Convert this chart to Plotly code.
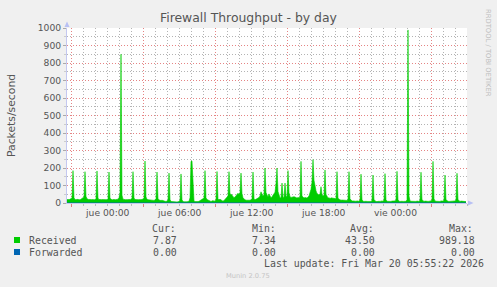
import plotly.graph_objects as go

# ---------------- data ----------------
step_minutes = 5
start_minute = -200          # first sample, minutes relative to "jue 00:00"

received = [
    19, 21, 18, 20, 22, 28, 185, 30, 20, 18, 21, 19,
    20, 18, 22, 26, 32, 35, 179, 38, 24, 20, 19, 21,
    18, 20, 19, 22, 18, 26, 183, 28, 19, 21, 18, 20,
    19, 18, 21, 20, 19, 25, 177, 27, 20, 18, 19, 21,
    18, 20, 19, 22, 30, 60, 850, 45, 22, 20, 19, 18,
    20, 18, 21, 19, 22, 27, 179, 29, 20, 19, 21, 18,
    19, 20, 18, 21, 22, 30, 240, 35, 21, 19, 18, 20,
    18, 19, 16, 15, 17, 24, 177, 26, 17, 15, 14, 16,
    13, 12, 10, 9, 11, 18, 171, 20, 9, 8, 7, 8,
    7, 8, 6, 7, 8, 17, 166, 18, 8, 7, 6, 8,
    7, 8, 10, 30, 238, 240, 60, 12, 8, 7, 9, 8,
    10, 14, 18, 20, 22, 28, 185, 30, 20, 16, 12, 10,
    9, 11, 14, 10, 12, 20, 180, 24, 18, 22, 16, 12,
    10, 14, 20, 28, 34, 40, 179, 48, 52, 44, 38, 30,
    34, 42, 50, 56, 48, 60, 171, 55, 30, 22, 18, 16,
    15, 18, 17, 16, 18, 24, 177, 26, 18, 20, 22, 28,
    32, 40, 64, 45, 38, 50, 200, 60, 46, 34, 52, 40,
    30, 36, 44, 58, 62, 110, 200, 66, 40, 30, 28, 114,
    36, 30, 114, 40, 34, 185, 60, 36, 32, 34, 38, 36,
    34, 30, 28, 32, 30, 34, 238, 40, 30, 28, 32, 30,
    28, 34, 40, 60, 78, 120, 248, 130, 84, 70, 55, 50,
    46, 52, 93, 48, 40, 44, 189, 50, 32, 28, 30, 26,
    28, 30, 26, 28, 24, 26, 179, 28, 22, 18, 16, 17,
    16, 18, 14, 12, 15, 22, 179, 24, 13, 11, 12, 10,
    11, 10, 12, 9, 10, 18, 165, 20, 10, 9, 11, 10,
    9, 10, 8, 11, 9, 16, 160, 18, 10, 9, 8, 10,
    10, 9, 11, 12, 10, 17, 168, 19, 10, 9, 11, 10,
    9, 11, 10, 9, 12, 18, 181, 20, 10, 9, 11, 10,
    9, 10, 11, 10, 18, 989, 40, 12, 10, 9, 11, 10,
    10, 9, 11, 10, 9, 17, 176, 19, 10, 9, 11, 12,
    10, 9, 11, 10, 12, 20, 238, 24, 12, 10, 9, 11,
    10, 9, 12, 10, 11, 16, 160, 18, 11, 10, 9, 10,
    10, 9, 11, 10, 12, 17, 170, 19, 10, 9, 11, 10,
    9, 10, 8, 7.87,
]
forwarded = [0.0] * len(received)

x_label_vals = [0, 360, 720, 1080, 1440]
x_label_text = ["jue 00:00", "jue 06:00", "jue 12:00", "jue 18:00", "vie 00:00"]

series_names = ["Received", "Forwarded"]
series_colors = ["#00CC00", "#0066B3"]
stat_headers = ["Cur:", "Min:", "Avg:", "Max:"]
stat_cur = ["7.87", "0.00"]
stat_min = ["7.34", "0.00"]
stat_avg = ["43.50", "0.00"]
stat_max = ["989.18", "0.00"]
last_update = "Last update: Fri Mar 20 05:55:22 2026"

title_text = "Firewall Throughput - by day"
y_title = "Packets/second"

# ---------------- layout geometry ----------------
W, H = 497, 287
PL, PR, PT, PB = 67, 467, 28, 203
x_range = [start_minute, start_minute + step_minutes * 400]

x_minutes = [start_minute + step_minutes * i for i in range(len(received))]


def px(x):
    return (x - PL) / (PR - PL)


def py(y):
    return (PB - y) / (PB - PT)


TXT = "#555555"
SANS = "DejaVu Sans"
MONO = "DejaVu Sans Mono"

fig = go.Figure()
fig.add_trace(go.Scatter(
    x=x_minutes, y=received, mode="lines", fill="tozeroy",
    line=dict(color=series_colors[0], width=0.6), fillcolor=series_colors[0],
    name=series_names[0], showlegend=False, hoverinfo="skip"))
fig.add_trace(go.Scatter(
    x=x_minutes, y=forwarded, mode="lines",
    line=dict(color=series_colors[1], width=1),
    name=series_names[1], showlegend=False, hoverinfo="skip"))

GRID_MAJ = "rgba(225,110,110,0.85)"
GRID_MIN = "rgba(160,160,160,0.8)"
AXIS_C = "#C4C8F0"

fig.update_layout(
    width=W, height=H,
    margin=dict(l=PL, r=W - PR, t=PT, b=H - PB, pad=0),
    paper_bgcolor="#F0F0F0", plot_bgcolor="#FFFFFF",
    showlegend=False,
    xaxis=dict(
        range=x_range, showticklabels=False,
        tick0=-180, dtick=360,
        showgrid=True, gridcolor=GRID_MAJ, griddash="1px,2px", gridwidth=1,
        ticks="outside", ticklen=3, tickcolor="#E08080",
        showline=True, linecolor=AXIS_C, linewidth=1,
        zeroline=False, fixedrange=True,
        minor=dict(tick0=0, dtick=60, showgrid=True, gridcolor=GRID_MIN,
                   griddash="1px,2px", gridwidth=1,
                   ticks="outside", ticklen=2, tickcolor="#BBBBBB"),
    ),
    yaxis=dict(
        range=[0, 1000], tick0=0, dtick=100,
        showgrid=True, gridcolor=GRID_MAJ, griddash="1px,2px", gridwidth=1,
        ticks="outside", ticklen=3, tickcolor="#AAAAAA",
        tickfont=dict(family=SANS, size=9.2, color=TXT),
        showline=True, linecolor=AXIS_C, linewidth=1,
        zeroline=False, fixedrange=True,
        minor=dict(dtick=50, showgrid=True, gridcolor=GRID_MIN,
                   griddash="1px,2px", gridwidth=1,
                   ticks="outside", ticklen=2, tickcolor="#CCCCCC"),
    ),
)

ann = []
# title
ann.append(dict(x=px(248), y=py(18), xref="paper", yref="paper", text=title_text,
                showarrow=False, xanchor="center", yanchor="middle",
                font=dict(family=SANS, size=12.4, color=TXT)))
# y title
ann.append(dict(x=px(11), y=py(115), xref="paper", yref="paper", text=y_title,
                showarrow=False, xanchor="center", yanchor="middle", textangle=-90,
                font=dict(family=SANS, size=10.8, color=TXT)))
# rrdtool credit
ann.append(dict(x=px(488), y=py(53), xref="paper", yref="paper",
                text="RRDTOOL / TOBI OETIKER",
                showarrow=False, xanchor="center", yanchor="middle", textangle=90,
                font=dict(family=SANS, size=6.8, color="#BDBDBD")))
# x tick labels
for v, t in zip(x_label_vals, x_label_text):
    ann.append(dict(x=v, y=py(212), xref="x", yref="paper", text=t,
                    showarrow=False, xanchor="center", yanchor="middle",
                    font=dict(family=SANS, size=9.2, color=TXT)))
# legend headers
hdr_left = [150, 250, 348, 446.7]
for h, xl in zip(stat_headers, hdr_left):
    ann.append(dict(x=px(xl), y=py(228), xref="paper", yref="paper", text=h,
                    showarrow=False, xanchor="left", yanchor="middle",
                    font=dict(family=MONO, size=9.9, color=TXT)))
row_y = [240, 252]
col_right = [179, 278, 377, 476.7]
for k, name in enumerate(series_names):
    ann.append(dict(x=px(26.5), y=py(row_y[k]), xref="paper", yref="paper", text=name,
                    showarrow=False, xanchor="left", yanchor="middle",
                    font=dict(family=MONO, size=9.9, color=TXT)))
    for vals, xr in zip([stat_cur, stat_min, stat_avg, stat_max], col_right):
        ann.append(dict(x=px(xr), y=py(row_y[k]), xref="paper", yref="paper",
                        text=vals[k], showarrow=False, xanchor="right", yanchor="middle",
                        font=dict(family=MONO, size=9.9, color=TXT)))
ann.append(dict(x=px(261.5), y=py(263.5), xref="paper", yref="paper", text=last_update,
                showarrow=False, xanchor="left", yanchor="middle",
                font=dict(family=MONO, size=9.9, color=TXT)))
ann.append(dict(x=px(248), y=py(276), xref="paper", yref="paper", text="Munin 2.0.75",
                showarrow=False, xanchor="center", yanchor="middle",
                font=dict(family=SANS, size=6.7, color="#C4C4C4")))
fig.update_layout(annotations=ann)

shapes = []
# legend colour boxes
for k, c in enumerate(series_colors):
    y0 = row_y[k] - 3
    shapes.append(dict(type="rect", xref="paper", yref="paper",
                       x0=px(14), x1=px(20), y0=py(y0 + 6), y1=py(y0),
                       fillcolor=c, line=dict(width=0)))
# axis arrows
ARROW = "#B8C0F4"
shapes.append(dict(type="path", xref="paper", yref="paper",
                   path=f"M {px(64.5)} {py(27)} L {px(69.5)} {py(27)} L {px(67)} {py(21.5)} Z",
                   fillcolor=ARROW, line=dict(width=0)))
shapes.append(dict(type="path", xref="paper", yref="paper",
                   path=f"M {px(468)} {py(200.5)} L {px(468)} {py(205.5)} L {px(473.5)} {py(203)} Z",
                   fillcolor=ARROW, line=dict(width=0)))
fig.update_layout(shapes=shapes)

fig.write_html("out.html")
